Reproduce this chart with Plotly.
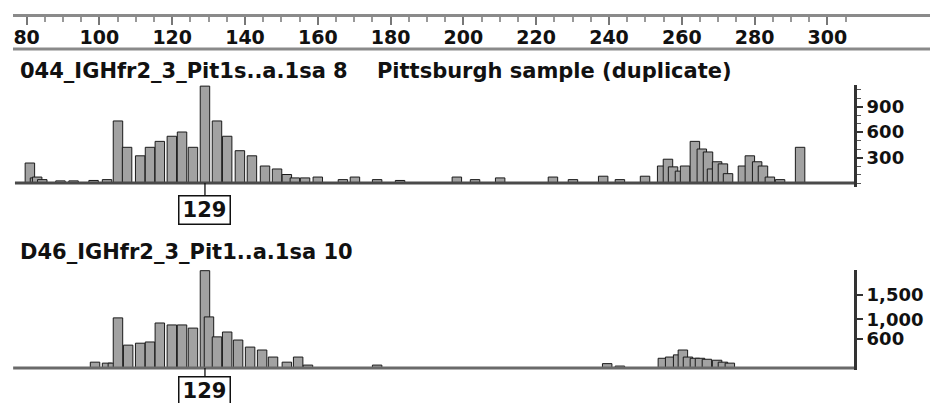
import plotly.graph_objects as go

# ---------------- data ----------------
ruler_labels = [80, 100, 120, 140, 160, 180, 200, 220, 240, 260, 280, 300]
ruler_minor = list(range(75, 310, 5))

# panel 1: 044_IGHfr2_3_Pit1s..a.1sa 8 (size bp, height RFU)
p1_size = [80.9, 82.3, 82.9, 84.3, 89.3, 92.9, 98.4, 102.1,
           105.1, 107.6, 111.2, 113.9, 116.6, 119.9, 122.7, 125.7, 129.0,
           132.3, 135.1, 138.6, 141.9, 145.5, 148.8, 151.5, 153.7, 156.5,
           160.0, 166.9, 170.2, 176.3, 182.6, 198.2, 203.2, 210.1, 224.6,
           230.1, 238.4, 243.0,
           249.9, 254.6, 256.2, 257.6, 259.5, 260.9, 263.6, 265.5, 267.2,
           268.3, 269.7, 271.3, 272.7, 276.8, 278.7, 280.7, 282.3, 284.2,
           287.0, 292.5]
p1_height = [235, 60, 70, 40, 25, 25, 30, 40,
             730, 420, 320, 420, 490, 550, 600, 420, 1140,
             730, 550, 380, 320, 200, 165, 100, 60, 60,
             70, 40, 70, 40, 30, 70, 40, 60, 70,
             40, 80, 40,
             80, 200, 280, 190, 140, 200, 490, 400, 365,
             165, 250, 225, 110, 200, 320, 250, 200, 70,
             40, 420]
p1_start, p1_end = 76.8, 307.6

# panel 2: D46_IGHfr2_3_Pit1..a.1sa 10
p2_size = [98.8, 102.1, 103.7, 105.1, 107.9, 111.2, 113.9, 116.6, 119.9,
           122.7, 125.7, 129.0, 130.1, 132.3, 135.1, 138.1, 141.4, 144.7,
           147.7, 151.5, 154.6, 157.3, 176.3, 239.5, 243.0,
           254.8, 256.8, 259.0, 260.3, 261.7, 263.6, 265.0, 266.9, 269.7,
           271.3, 273.2]
p2_height = [120, 100, 100, 1030, 470, 510, 535, 925, 885,
             885, 820, 2000, 1050, 640, 740, 575, 430, 370,
             225, 120, 225, 60, 60, 90, 40,
             200, 225, 270, 370, 225, 200, 200, 180, 160,
             120, 100]
p2_start, p2_end = 76.3, 307.6

p1_ticks = [300, 600, 900]
p2_ticks = [600, 1000, 1500]
peak_label = 129

title1 = "044_IGHfr2_3_Pit1s..a.1sa 8    Pittsburgh sample (duplicate)"
title2 = "D46_IGHfr2_3_Pit1..a.1sa 10"

# ---------------- figure ----------------
W, H = 930, 403
def py(p):
    return 1 - p / H

FONT = "DejaVu Sans, Liberation Sans, Arial, sans-serif"
xr = [72.69, 328.19]

fig = go.Figure()

# ruler anchor trace (invisible, just places the size ruler)
fig.add_trace(go.Scatter(x=ruler_labels, y=[0.5] * len(ruler_labels),
                         mode="markers", marker=dict(opacity=0),
                         xaxis="x3", yaxis="y3", hoverinfo="skip"))
# baselines
fig.add_trace(go.Scatter(x=[p1_start, p1_end], y=[0, 0], mode="lines",
                         line=dict(color="#4a4a4a", width=3),
                         xaxis="x", yaxis="y", hoverinfo="skip"))
fig.add_trace(go.Scatter(x=[p2_start, p2_end], y=[0, 0], mode="lines",
                         line=dict(color="#6a6a6a", width=3),
                         xaxis="x2", yaxis="y2", hoverinfo="skip"))
# peaks
bar_style = dict(color="#a2a2a2", line=dict(color="#1a1a1a", width=1))
fig.add_trace(go.Bar(x=p1_size, y=p1_height, width=2.6, marker=bar_style,
                     xaxis="x", yaxis="y"))
fig.add_trace(go.Bar(x=p2_size, y=p2_height, width=2.6, marker=bar_style,
                     xaxis="x2", yaxis="y2"))

yfont = dict(family=FONT, size=18, color="#111")

fig.update_layout(
    width=W, height=H, autosize=False,
    margin=dict(l=0, r=0, t=0, b=0),
    paper_bgcolor="white", plot_bgcolor="white",
    showlegend=False, barmode="overlay",
    xaxis=dict(domain=[0, 1], range=xr, visible=False, anchor="y"),
    xaxis2=dict(domain=[0, 1], range=xr, visible=False, anchor="y2"),
    xaxis3=dict(domain=[13 / W, 1], range=[76.26, 328.19], anchor="y3",
                side="bottom",
                showline=True, linecolor="#8a8a8a", linewidth=3,
                showgrid=False, zeroline=False,
                tickmode="array", tickvals=ruler_labels,
                ticktext=["<b>%d</b>" % v for v in ruler_labels],
                ticks="outside", ticklen=8, tickwidth=2, tickcolor="#777",
                ticklabelstandoff=-4,
                minor=dict(tickmode="array", tickvals=ruler_minor,
                           ticks="outside", ticklen=5, tickwidth=2, tickcolor="#999"),
                tickfont=dict(family=FONT, size=19, color="#111")),
    yaxis3=dict(domain=[py(14), py(2)], anchor="x3", visible=False,
                range=[0, 1]),
    yaxis=dict(domain=[py(187), py(85)], range=[-47, 1153], anchor="free",
               position=855 / W, side="right", showgrid=False, zeroline=False,
               showline=True, linecolor="#333", linewidth=3,
               tickmode="array", tickvals=p1_ticks,
               ticktext=["<b>%d</b>" % v for v in p1_ticks],
               ticks="outside", ticklen=6,
               tickwidth=2, tickcolor="#333",
               minor=dict(dtick=100, ticks="outside", ticklen=4, tickwidth=1, tickcolor="#555"),
               tickfont=yfont),
    yaxis2=dict(domain=[py(370), py(270)], range=[-41, 2014], anchor="free",
                position=855 / W, side="right", showgrid=False, zeroline=False,
                showline=True, linecolor="#333", linewidth=3,
                tickmode="array", tickvals=p2_ticks,
                ticktext=["<b>{:,}</b>".format(v) for v in p2_ticks],
                ticks="outside", ticklen=6, tickwidth=2, tickcolor="#333",
                tickfont=yfont),
    font=dict(family=FONT),
)

# bottom line of the ruler
fig.add_shape(type="line", xref="paper", yref="paper", x0=13 / W, x1=1,
              y0=py(49), y1=py(49), line=dict(color="#8a8a8a", width=3))

# titles
fig.add_annotation(text="<b>%s</b>" % title1.replace("    ", "&nbsp;&nbsp;&nbsp;&nbsp;"),
                   xref="paper", yref="paper", x=18 / W, y=py(71),
                   xanchor="left", yanchor="middle", showarrow=False,
                   font=dict(family=FONT, size=21, color="#111"))
fig.add_annotation(text="<b>%s</b>" % title2,
                   xref="paper", yref="paper", x=18 / W, y=py(252),
                   xanchor="left", yanchor="middle", showarrow=False,
                   font=dict(family=FONT, size=21, color="#111"))

# peak labels
for xa, ya, ay in (("x", "y", 27), ("x2", "y2", 23)):
    fig.add_annotation(text="<b>%d</b>" % peak_label, x=peak_label, y=0,
                       xref=xa, yref=ya, showarrow=True, arrowhead=0,
                       arrowwidth=1.3, arrowcolor="#111", ax=0, ay=ay,
                       width=50, height=27,
                       font=dict(family=FONT, size=21, color="#111"),
                       bordercolor="#111", borderwidth=1.5, borderpad=0,
                       bgcolor="white")

fig.write_html("out.html", config={"displayModeBar": False},
               post_script="document.body.style.margin='0px';")
